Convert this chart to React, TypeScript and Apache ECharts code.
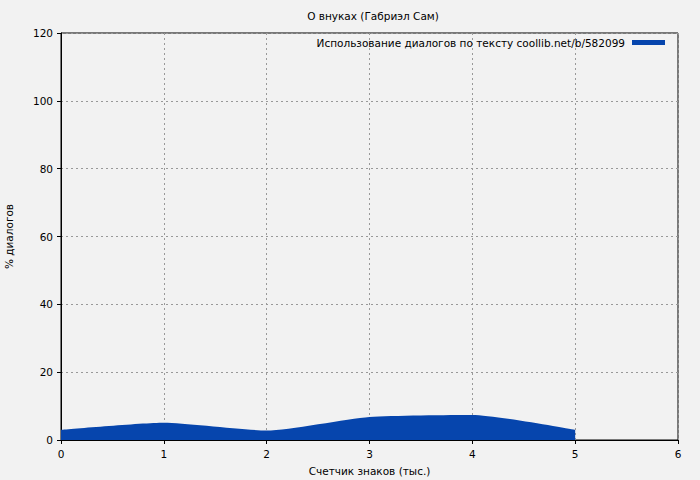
import React, { useEffect, useRef } from "react";
import * as echarts from "echarts";

const titleText = "О внуках (Габриэл Сам)";
const seriesName = "Использование диалогов по тексту coollib.net/b/582099";
const xValues = [0, 1, 2, 3, 4, 5];
const yValues = [3.0, 5.1, 2.8, 6.8, 7.4, 3.0];
const xAxisName = "Счетчик знаков (тыс.)";
const yAxisName = "% диалогов";

const FONT = "DejaVu Sans";
const FS = 10.5;
const FILL = "#0645ad";

export default function App() {
  const ref = useRef<HTMLDivElement>(null);
  useEffect(() => {
    document.body.style.margin = "0";
    const chart = echarts.init(ref.current!, null, { renderer: "svg" });
    chart.setOption({
      animation: false,
      backgroundColor: "#f2f2f2",
      textStyle: { fontFamily: FONT },
      title: {
        text: titleText,
        left: 368,
        textAlign: "center",
        top: 5,
        textStyle: { fontFamily: FONT, fontSize: FS, fontWeight: "normal", color: "#000" },
      },
      legend: {
        right: 30,
        top: 32,
        align: "right",
        icon: "rect",
        itemWidth: 33,
        itemHeight: 5,
        itemGap: 5,
        textStyle: { fontFamily: FONT, fontSize: FS, color: "#000", padding: [0, 2, 0, 0] },
        data: [{ name: seriesName, itemStyle: { color: FILL } }],
      },
      grid: {
        left: 61,
        right: 22,
        top: 33,
        bottom: 40,
        show: true,
        borderColor: "#000",
        borderWidth: 1,
        backgroundColor: "transparent",
        containLabel: false,
        outerBoundsMode: "none",
      },
      xAxis: {
        type: "value",
        min: 0,
        max: 6,
        interval: 1,
        name: xAxisName,
        nameLocation: "middle",
        nameGap: 25,
        nameTextStyle: { fontFamily: FONT, fontSize: FS, color: "#000" },
        axisLine: { show: true, lineStyle: { color: "#000", width: 1 } },
        axisTick: { show: true, length: 4, lineStyle: { color: "#000" } },
        axisLabel: { fontFamily: FONT, fontSize: FS, color: "#000", margin: 8 },
        splitLine: { show: true, lineStyle: { color: "#999", type: [2, 3], width: 1 } },
      },
      yAxis: {
        type: "value",
        min: 0,
        max: 120,
        interval: 20,
        name: yAxisName,
        nameLocation: "middle",
        nameGap: 47,
        nameRotate: 90,
        nameTextStyle: { fontFamily: FONT, fontSize: FS, color: "#000" },
        axisLine: { show: true, lineStyle: { color: "#000", width: 1 } },
        axisTick: { show: true, length: 4, lineStyle: { color: "#000" } },
        axisLabel: { fontFamily: FONT, fontSize: FS, color: "#000", margin: 8 },
        splitLine: { show: true, lineStyle: { color: "#999", type: [2, 3], width: 1 } },
      },
      series: [
        {
          name: seriesName,
          type: "line",
          data: xValues.map((x, i) => [x, yValues[i]]),
          showSymbol: false,
          smooth: 0.2,
          lineStyle: { width: 0, color: FILL },
          itemStyle: { color: FILL },
          areaStyle: { color: FILL, opacity: 1 },
        },
      ],
    });
    return () => chart.dispose();
  }, []);
  return <div ref={ref} style={{ width: 700, height: 480 }} />;
}
